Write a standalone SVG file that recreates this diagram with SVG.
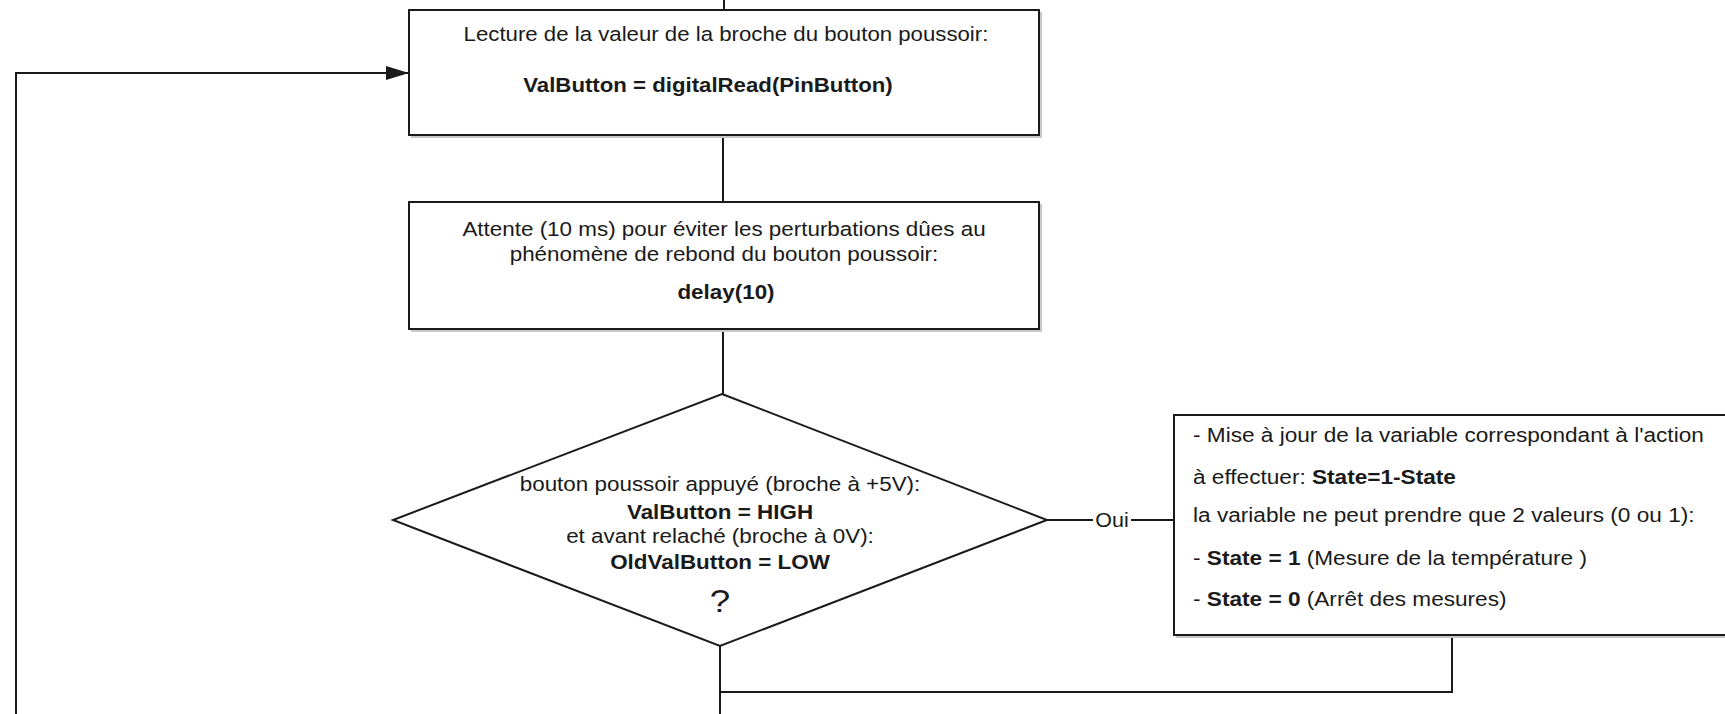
<svg xmlns="http://www.w3.org/2000/svg" width="1725" height="714" viewBox="0 0 1725 714">
<style>
.box{fill:#fff;stroke:#1a1a1a;stroke-width:2}
.sh{fill:none;stroke:#c8c8c8;stroke-width:2}
.ln{fill:none;stroke:#1a1a1a;stroke-width:2}
text{font-family:"Liberation Sans",Arial,sans-serif;font-size:19.5px;fill:#1a1a1a}
.c{text-anchor:middle}
.b{font-weight:bold}
.q{font-size:32px}
</style>
<defs>
<marker id="ah" markerWidth="24" markerHeight="15" refX="23" refY="7.5" orient="auto" markerUnits="userSpaceOnUse">
<path d="M0,0.5 L23,7.5 L0,14.5 Z" fill="#1a1a1a"/>
</marker>
</defs>
<g id="connectors">
<path class="ln" d="M724,0 V10"/>
<path class="ln" d="M723,135 V202"/>
<path class="ln" d="M723,329 V394"/>
<path class="ln" d="M1047,520 H1174"/>
<path class="ln" d="M1452,635 V692 H720"/>
<path class="ln" d="M720,646 V714"/>
<path class="ln" d="M16,714 V73 H409" marker-end="url(#ah)"/>
<g id="label-oui">
<rect x="1093" y="508" width="38" height="24" fill="#fff"/>
<text class="c" transform="translate(1112,527) scale(1.1,1)">Oui</text>
</g>
</g>
<g id="node-read">
<path class="sh" d="M411,137 H1041 V12"/>
<rect class="box" x="409" y="10" width="630" height="125"/>
<text class="c" transform="translate(726,41) scale(1.14,1)">Lecture de la valeur de la broche du bouton poussoir:</text>
<text class="c b" transform="translate(708,92) scale(1.14,1)">ValButton = digitalRead(PinButton)</text>
</g>
<g id="node-delay">
<path class="sh" d="M411,331 H1041 V204"/>
<rect class="box" x="409" y="202" width="630" height="127"/>
<text class="c" transform="translate(724,236) scale(1.15,1)">Attente (10 ms) pour éviter les perturbations dûes au</text>
<text class="c" transform="translate(724,261) scale(1.15,1)">phénomène de rebond du bouton poussoir:</text>
<text class="c b" transform="translate(726,299) scale(1.15,1)">delay(10)</text>
</g>
<g id="node-decision">
<polygon class="box" points="722,394 1047,520 720,646 393,520"/>
<text class="c" transform="translate(720,491) scale(1.15,1)">bouton poussoir appuyé (broche à +5V):</text>
<text class="c b" transform="translate(720,519) scale(1.15,1)">ValButton = HIGH</text>
<text class="c" transform="translate(720,543) scale(1.15,1)">et avant relaché (broche à 0V):</text>
<text class="c b" transform="translate(720,569) scale(1.15,1)">OldValButton = LOW</text>
<text class="c q" transform="translate(720,612) scale(1.15,1)">?</text>
</g>
<g id="node-update">
<path class="sh" d="M1176,637 H1740"/>
<rect class="box" x="1174" y="415" width="570" height="220"/>
<text transform="translate(1193,442) scale(1.16,1)">- Mise à jour de la variable correspondant à l'action</text>
<text transform="translate(1193,484) scale(1.16,1)">à effectuer: <tspan class="b">State=1-State</tspan></text>
<text transform="translate(1193,522) scale(1.16,1)">la variable ne peut prendre que 2 valeurs (0 ou 1):</text>
<text transform="translate(1193,565) scale(1.16,1)">- <tspan class="b">State = 1</tspan> (Mesure de la température )</text>
<text transform="translate(1193,606) scale(1.16,1)">- <tspan class="b">State = 0</tspan> (Arrêt des mesures)</text>
</g>
</svg>
